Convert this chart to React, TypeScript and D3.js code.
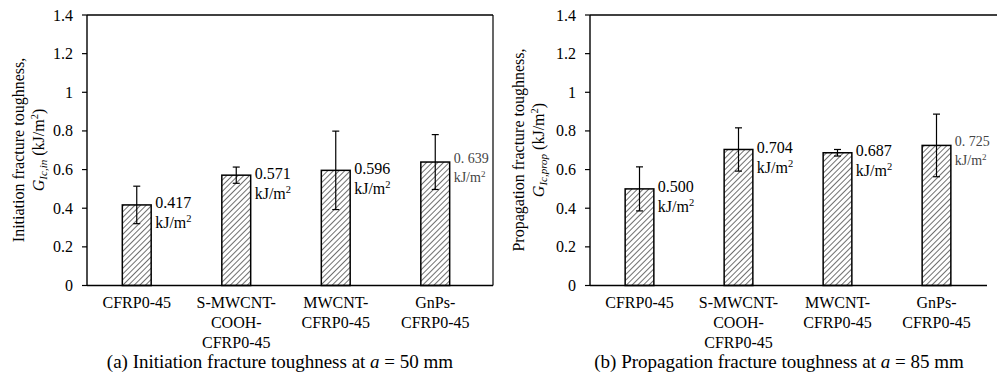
import React from 'react';
import * as d3 from 'd3';

const categories: string[][] = [
  ['CFRP0-45'],
  ['S-MWCNT-', 'COOH-', 'CFRP0-45'],
  ['MWCNT-', 'CFRP0-45'],
  ['GnPs-', 'CFRP0-45'],
];
const initValues = [0.417, 0.571, 0.596, 0.639];
const initErrors = [0.097, 0.042, 0.203, 0.142];
const initLabels = ['0.417', '0.571', '0.596', '0. 639'];
const propValues = [0.5, 0.704, 0.687, 0.725];
const propErrors = [0.114, 0.112, 0.017, 0.162];
const propLabels = ['0.500', '0.704', '0.687', '0. 725'];
const yTicks = [0, 0.2, 0.4, 0.6, 0.8, 1, 1.2, 1.4];
const grayLabel = [false, false, false, true];

const SERIF = "'Liberation Serif', 'Times New Roman', Times, 'DejaVu Serif', serif";
const serif = { fontFamily: SERIF };

type PanelProps = {
  x0: number;
  x1: number;
  frameRight: number;
  topRight: number;
  baseRight: number;
  showRightBorder: boolean;
  values: number[];
  errors: number[];
  labels: string[];
  title1: string;
  sub: string;
  titleX: number;
  caption: string;
  captionLetter: string;
  captionValue: string;
  captionX: number;
};

function Panel(p: PanelProps) {
  const y = d3.scaleLinear().domain([0, 1.4]).range([285.5, 15]);
  const x = d3
    .scaleBand<number>()
    .domain(d3.range(categories.length))
    .range([p.x0, p.x1])
    .paddingInner(0.71)
    .paddingOuter(0.355);
  const bw = x.bandwidth();
  const fmt = (d: number) => String(+d.toFixed(1));
  return (
    <g>
      <line x1={p.x0} x2={p.topRight} y1={y(1.4)} y2={y(1.4)} stroke="#000" strokeWidth={1.4} />
      {p.showRightBorder && (
        <line x1={p.frameRight} x2={p.frameRight} y1={y(1.4)} y2={y(0)} stroke="#000" strokeWidth={1.2} />
      )}
      {p.values.map((v, i) => (
        <rect
          key={'b' + i}
          x={x(i)!}
          y={y(v)}
          width={bw}
          height={y(0) - y(v)}
          fill="url(#hatch)"
          stroke="#000"
          strokeWidth={1.5}
        />
      ))}
      {p.values.map((v, i) => {
        const cx = x(i)! + bw / 2;
        const top = y(v + p.errors[i]);
        const bot = y(v - p.errors[i]);
        return (
          <g key={'e' + i} stroke="#000" strokeWidth={1.2}>
            <line x1={cx} x2={cx} y1={top} y2={bot} />
            <line x1={cx - 3.5} x2={cx + 3.5} y1={top} y2={top} />
            <line x1={cx - 3.5} x2={cx + 3.5} y1={bot} y2={bot} />
          </g>
        );
      })}
      {p.values.map((v, i) => {
        const lx = x(i)! + bw + 4;
        const ty = y(v);
        if (grayLabel[i]) {
          return (
            <g key={'l' + i} fill="#444">
              <text x={lx} y={ty + 1} style={serif} fontSize={14}>
                {p.labels[i]}
              </text>
              <text x={lx} y={ty + 20} style={serif} fontSize={14}>
                kJ/m<tspan fontSize={9} dy={-5}>2</tspan>
              </text>
            </g>
          );
        }
        return (
          <g key={'l' + i} fill="#000" style={serif} fontSize={16}>
            <text x={lx} y={ty + 3.5} style={serif}>{p.labels[i]}</text>
            <text x={lx} y={ty + 23.5} style={serif}>
              kJ/m<tspan fontSize={10.5} dy={-6}>2</tspan>
            </text>
          </g>
        );
      })}
      <line x1={p.x0} x2={p.baseRight} y1={y(0)} y2={y(0)} stroke="#000" strokeWidth={1.3} />
      <line x1={p.x0} x2={p.x0} y1={y(1.4)} y2={y(0)} stroke="#000" strokeWidth={1.4} />
      {yTicks.map((t) => (
        <g key={'t' + t}>
          <line x1={p.x0 - 5} x2={p.x0} y1={y(t)} y2={y(t)} stroke="#000" strokeWidth={1.2} />
          <text x={p.x0 - 14} y={y(t) + 5.5} textAnchor="end" style={serif} fontSize={16} fill="#000">
            {fmt(t)}
          </text>
        </g>
      ))}
      {categories.map((lines, i) => (
        <text key={'c' + i} textAnchor="middle" style={serif} fontSize={16} fill="#000">
          {lines.map((ln, j) => (
            <tspan key={j} x={x(i)! + bw / 2} y={308 + j * 20}>
              {ln}
            </tspan>
          ))}
        </text>
      ))}
      <text
        transform={`translate(${p.titleX},150) rotate(-90)`}
        textAnchor="middle"
        style={serif}
        fontSize={16}
        fill="#000"
      >
        {p.title1}
      </text>
      <text
        transform={`translate(${p.titleX + 20},150) rotate(-90)`}
        textAnchor="middle"
        style={serif}
        fontSize={16}
        fill="#000"
      >
        <tspan fontStyle="italic">G</tspan>
        <tspan fontStyle="italic" fontSize={11} dy={3}>
          {p.sub}
        </tspan>
        <tspan dy={-3}> (kJ/m</tspan>
        <tspan fontSize={10.5} dy={-6}>
          2
        </tspan>
        <tspan dy={6}>)</tspan>
      </text>
      <text x={p.captionX} y={368} textAnchor="middle" style={serif} fontSize={19} fill="#000">
        {p.caption}
        <tspan fontStyle="italic">{p.captionLetter}</tspan>
        {p.captionValue}
      </text>
    </g>
  );
}

export default function App() {
  return (
    <svg
      width={997}
      height={379}
      viewBox="0 0 997 379"
      style={{ position: 'absolute', left: 0, top: 0, display: 'block', background: '#fff' }}
    >
      <defs>
        <pattern id="hatch" patternUnits="userSpaceOnUse" width={4} height={4} patternTransform="rotate(45)">
          <rect width={4} height={4} fill="#fff" />
          <line x1={0} y1={0} x2={0} y2={4} stroke="#222" strokeWidth={1.3} />
        </pattern>
      </defs>
      <rect width={997} height={379} fill="#fff" />
      <Panel
        x0={87}
        x1={485}
        frameRight={493}
        topRight={493}
        baseRight={493}
        showRightBorder={true}
        values={initValues}
        errors={initErrors}
        labels={initLabels}
        title1="Initiation fracture toughness,"
        sub="Ic,in"
        titleX={24}
        caption="(a) Initiation fracture toughness at "
        captionLetter="a"
        captionValue=" = 50 mm"
        captionX={280}
      />
      <Panel
        x0={590}
        x1={986}
        frameRight={997}
        topRight={997}
        baseRight={987}
        showRightBorder={false}
        values={propValues}
        errors={propErrors}
        labels={propLabels}
        title1="Propagation fracture toughness,"
        sub="Ic,prop"
        titleX={524}
        caption="(b) Propagation fracture toughness at "
        captionLetter="a"
        captionValue=" = 85 mm"
        captionX={779}
      />
    </svg>
  );
}
